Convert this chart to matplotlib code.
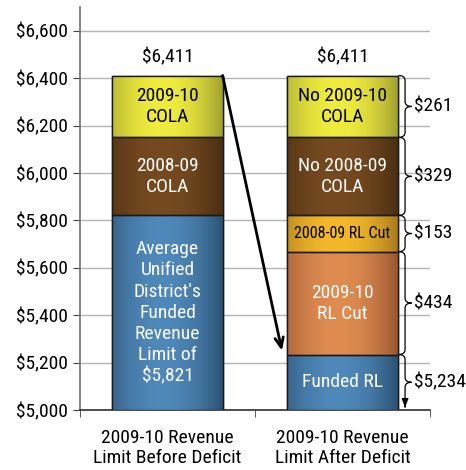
import numpy as np
import matplotlib
matplotlib.use("Agg")
import matplotlib.pyplot as plt
from matplotlib.path import Path
from matplotlib.patches import PathPatch
from matplotlib.colors import to_rgb
from matplotlib import font_manager as fm

_installed = {f.name for f in fm.fontManager.ttflist}
_cands = ['Liberation Sans Narrow', 'Arial Narrow', 'Roboto Condensed', 'PT Sans Narrow',
          'Archivo Narrow', 'Fira Sans Condensed', 'IBM Plex Sans Condensed']
_fam = [c for c in _cands if c in _installed] + ['DejaVu Sans']
plt.rcParams['font.family'] = _fam

categories = ["2009-10 Revenue\nLimit Before Deficit", "2009-10 Revenue\nLimit After Deficit"]
# stacked segments bottom -> top
bar1_values = [5821, 329, 261]
bar1_labels = ["Average\nUnified\nDistrict's\nFunded\nRevenue\nLimit of\n$5,821", "2008-09\nCOLA", "2009-10\nCOLA"]
bar2_values = [5234, 434, 153, 329, 261]
bar2_labels = ["Funded RL", "2009-10\nRL Cut", "2008-09 RL Cut", "No 2008-09\nCOLA", "No 2009-10\nCOLA"]
bar2_brace_labels = ["$5,234", "$434", "$153", "$329", "$261"]
totals = [6411, 6411]
yticks = [5000, 5200, 5400, 5600, 5800, 6000, 6200, 6400, 6600]

palette = {
    "blue": ("#4f88ba", "#2a5272"),
    "brown": ("#764a20", "#4a2e12"),
    "yellow": ("#f0ec3e", "#a0a030"),
    "orange": ("#e08c50", "#985632"),
    "gold": ("#f4b92a", "#a87a1c"),
}
bar1_colors = ["blue", "brown", "yellow"]
bar2_colors = ["blue", "orange", "gold", "brown", "yellow"]
bar1_txt = ["white", "white", "black"]
bar2_txt = ["white", "white", "black", "white", "black"]
bar1_fs = [14, 14, 14]
bar2_fs = [14, 14, 11.5, 14, 14]

fig = plt.figure(figsize=(4.66, 4.70), dpi=100)
ax = fig.add_axes([80/466, 60/470, 350/466, 403/470])

width = 0.63
YMIN = 5000

def grad_img(name):
    light, dark = (np.array(to_rgb(c)) for c in palette[name])
    t = np.linspace(0, 1, 200)
    f = 1 - np.clip(np.abs(t - 0.45) / 0.55, 0, 1) ** 2
    cols = dark[None, :] + (light - dark)[None, :] * f[:, None]
    return cols[None, :, :]

def draw_stack(xpos, values, colors, labels, tcolors, fss):
    bottom = 0
    for v, c, lab, tc, fs in zip(values, colors, labels, tcolors, fss):
        b = bottom if bottom > 0 else YMIN
        h = v if bottom > 0 else v - YMIN
        rects = ax.bar(xpos, h, width, bottom=b, color=palette[c][0],
                       edgecolor="#1a1a1a", linewidth=1.0, zorder=3)
        r = rects[0]
        im = ax.imshow(grad_img(c), extent=[r.get_x(), r.get_x() + r.get_width(), b, b + h],
                       aspect="auto", zorder=3.5, interpolation="bilinear")
        im.set_clip_path(r)
        ax.bar(xpos, h, width, bottom=b, fill=False, edgecolor="#1a1a1a", linewidth=1.0, zorder=4)
        ax.text(xpos, b + h / 2, lab, ha="center", va="center", color=tc, fontsize=fs,
                linespacing=1.22, zorder=5)
        bottom = bottom + v
    return bottom

draw_stack(0, bar1_values, bar1_colors, bar1_labels, bar1_txt, bar1_fs)
draw_stack(1, bar2_values, bar2_colors, bar2_labels, bar2_txt, bar2_fs)

for i, t in enumerate(totals):
    ax.text(i, t + 78, f"${t:,}", ha="center", va="center", fontsize=14, zorder=5)

# braces on right of bar 2
px = 200 / 47.4  # data units per pixel
x0 = 1 + width / 2 + 0.005
w = 0.075
d = 5 * px

def brace(y0, y1, arrow_bottom=False):
    ym = (y0 + y1) / 2
    xm = x0 + w / 2
    if not arrow_bottom:
        verts = [(x0, y1), (xm, y1), (xm, y1 - d), (xm, ym + d), (xm, ym), (x0 + w, ym),
                 (xm, ym), (xm, ym - d), (xm, y0 + d), (xm, y0), (x0, y0)]
        codes = [Path.MOVETO, Path.CURVE3, Path.CURVE3, Path.LINETO, Path.CURVE3, Path.CURVE3,
                 Path.CURVE3, Path.CURVE3, Path.LINETO, Path.CURVE3, Path.CURVE3]
    else:
        verts = [(x0, y1), (xm, y1), (xm, y1 - d), (xm, ym + d), (xm, ym), (x0 + w, ym),
                 (xm, ym), (xm, ym - d), (xm, y0 + 4 * px)]
        codes = [Path.MOVETO, Path.CURVE3, Path.CURVE3, Path.LINETO, Path.CURVE3, Path.CURVE3,
                 Path.CURVE3, Path.CURVE3, Path.LINETO]
    ax.add_patch(PathPatch(Path(verts, codes), fill=False, edgecolor="black", lw=0.9,
                           zorder=5, clip_on=False))
    if arrow_bottom:
        ax.annotate("", xy=(xm, y0), xytext=(xm, y0 + 6 * px),
                    arrowprops=dict(arrowstyle="-|>,head_length=0.5,head_width=0.2",
                                    color="black", lw=0.9), zorder=5, annotation_clip=False)
    return ym

cum = 0
for i, (v, lab) in enumerate(zip(bar2_values, bar2_brace_labels)):
    lo = YMIN if i == 0 else cum
    hi = cum + v
    ym = brace(lo, hi, arrow_bottom=(i == 0))
    ax.text(x0 + w + 0.015, ym, lab, ha="left", va="center", fontsize=14, zorder=5)
    cum = hi

# arrow from bar1 top-right to bar2 funded RL
ax.annotate("", xy=(0.654, 5250), xytext=(width / 2, totals[0]),
            arrowprops=dict(arrowstyle="->,head_length=0.7,head_width=0.3",
                            color="black", lw=2, shrinkA=0, shrinkB=0), zorder=6)

ax.set_xlim(-0.5, 1.5)
ax.set_ylim(5000, 6700)
ax.set_yticks(yticks)
ax.set_yticklabels([f"${v:,}" for v in yticks], fontsize=14)
ax.yaxis.grid(True, color="#b4b4b4", lw=1.0, zorder=0)
ax.set_axisbelow(True)
ax.set_xticks([0, 1])
ax.set_xticklabels(categories, fontsize=14, linespacing=1.1)
ax.set_xticks([-0.5, 0.5, 1.5], minor=True)
ax.tick_params(axis="x", which="major", length=0, pad=14)
ax.tick_params(axis="x", which="minor", length=5, color="#404040", direction="out")
ax.tick_params(axis="y", length=5, color="#404040", direction="out", pad=4)
for s in ["top", "right"]:
    ax.spines[s].set_visible(False)
ax.spines["left"].set_color("#707070")
ax.spines["bottom"].set_color("#303030")
ax.spines["left"].set_linewidth(1.2)
ax.spines["bottom"].set_linewidth(1.2)

fig.savefig("out.png", dpi=100)
